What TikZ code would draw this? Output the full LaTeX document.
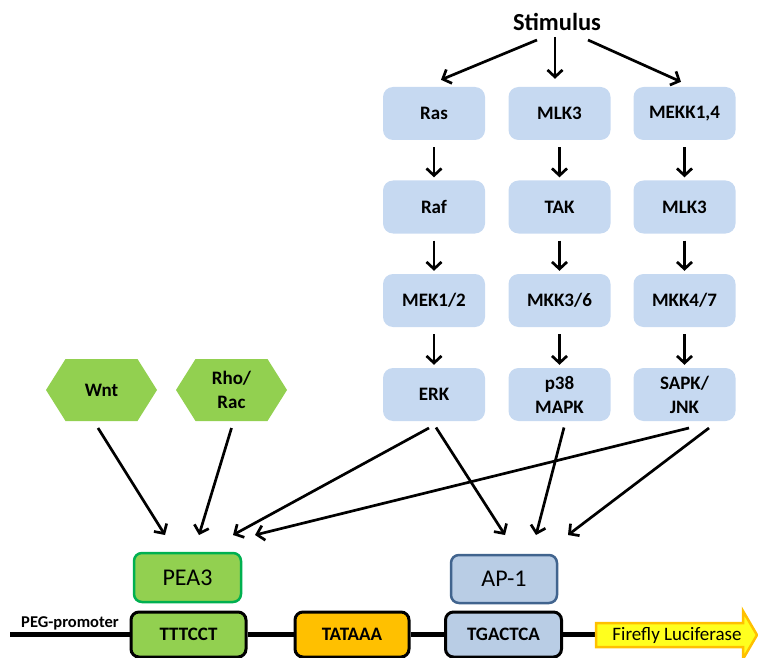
\documentclass[tikz,border=0pt]{standalone}
\usepackage{fontspec}
\setmainfont{Carlito}
\usetikzlibrary{arrows.meta}

\definecolor{kinaseblue}{HTML}{C6D9F1}
\definecolor{leafgreen}{HTML}{92D050}
\definecolor{rimgreen}{HTML}{00B050}
\definecolor{apblue}{HTML}{B9CDE5}
\definecolor{aprim}{HTML}{41648E}
\definecolor{tataorange}{HTML}{FFC000}
\definecolor{lucyellow}{HTML}{FFFF1E}
\definecolor{lucrim}{HTML}{FFC000}

\begin{document}
\begin{tikzpicture}[x=1pt,y=-1pt,
  kinase/.style={fill=kinaseblue, rounded corners=10pt, minimum width=102pt,
    minimum height=53pt, inner sep=0pt, align=center,
    font=\bfseries\fontsize{19}{24}\selectfont},
  hexlabel/.style={inner sep=0pt, align=center,
    font=\bfseries\fontsize{19}{24}\selectfont},
  hexfill/.style={fill=leafgreen},
  factor/.style={rounded corners=8pt, line width=2.5pt, minimum width=106pt,
    minimum height=48pt, inner sep=0pt, font=\fontsize{24}{28}\selectfont},
  site/.style={draw=black, rounded corners=8pt, line width=3pt,
    minimum width=114pt, minimum height=45pt, inner sep=0pt,
    font=\bfseries\fontsize{19}{22}\selectfont},
  arr/.style={line width=2.7pt, -{Straight Barb[length=7pt,width=15pt]}},
  dna/.style={line width=4.5pt}
]
\useasboundingbox (0,0) rectangle (758,658);

% stimulus
\node[font=\bfseries\fontsize{24.5}{28}\selectfont, inner sep=0pt] (stim) at (557,22) {Stimulus};

% MAPK cascades
\node[kinase] (ras)   at (434,113.5)   {Ras};
\node[kinase] (mlka)  at (559.5,113.5) {MLK3};
\node[kinase] (mekk)  at (684.5,113.5) {MEKK1,4};
\node[kinase] (raf)   at (434,207)     {Raf};
\node[kinase] (tak)   at (559.5,207)   {TAK};
\node[kinase] (mlkb)  at (684.5,207)   {MLK3};
\node[kinase] (mek)   at (434,300.5)   {MEK1/2};
\node[kinase] (mkkc)  at (559.5,300.5) {MKK3/6};
\node[kinase] (mkkd)  at (684.5,300.5) {MKK4/7};
\node[kinase] (erk)   at (434,394.5)   {ERK};
\node[kinase] (p38)   at (559.5,394.5) {p38\\MAPK};
\node[kinase] (sapk)  at (684.5,394.5) {SAPK/\\JNK};

\draw[arr] ([shift={(-20,18)}]stim.center) -- ([shift={(7,-7)}]ras.north);
\draw[arr] ([shift={(-2,15)}]stim.center) -- ([shift={(-4.5,-8)}]mlka.north);
\draw[arr] ([shift={(31,18)}]stim.center) -- ([shift={(-3.5,-5)}]mekk.north);

\foreach \a/\b in {ras/raf, raf/mek, mek/erk, mlka/tak, tak/mkkc, mkkc/p38,
                   mekk/mlkb, mlkb/mkkd, mkkd/sapk}
  \draw[arr] ([yshift=-7pt]\a.south) -- ([yshift=3pt]\b.north);

% Wnt and Rho/Rac hexagons
\foreach \c in {(101.5,390),(231.5,390)}
  \fill[hexfill, shift=\c] (-55.5,0) -- (-36,-31) -- (36,-31) -- (55.5,0)
     -- (36,31) -- (-36,31) -- cycle;
\node[hexlabel] (wnt) at (101.5,390) {Wnt};
\node[hexlabel] (rho) at (231.5,390) {Rho/\\Rac};

% transcription factors
\node[factor, draw=rimgreen, fill=leafgreen, minimum width=107pt, minimum height=49pt]
  (pea) at (187.5,577.5) {PEA3};
\node[factor, draw=aprim, fill=apblue] (ap) at (504,579) {AP-1};

\draw[arr] ([shift={(-3.5,38)}]wnt.center)  -- ([shift={(-22.5,-42.5)}]pea.center);
\draw[arr] ([shift={(0,38)}]rho.center)     -- ([shift={(11.5,-42.5)}]pea.center);
\draw[arr] ([shift={(-5,33.5)}]erk.center)  -- ([shift={(45.5,-42.5)}]pea.center);
\draw[arr] ([shift={(4.5,33.5)}]sapk.center) -- ([shift={(67.5,-42.5)}]pea.center);
\draw[arr] ([shift={(2,33)}]erk.center)     -- ([shift={(1,-44)}]ap.center);
\draw[arr] ([shift={(4.5,33)}]p38.center)   -- ([shift={(32,-44)}]ap.center);
\draw[arr] ([shift={(24.5,33.5)}]sapk.center) -- ([shift={(64,-44)}]ap.center);

% promoter construct
\node[site, fill=leafgreen, minimum width=115pt] (ttt) at (188.5,634.5) {TTTCCT};
\node[site, fill=tataorange] (tata) at (352,634.5) {TATAAA};
\node[site, fill=apblue, minimum width=116pt] (tga) at (503.5,634.5) {TGACTCA};

\coordinate (promstart) at (10,634.5);
\coordinate (luctail) at (596,634.5);
\node[font=\bfseries\fontsize{16.5}{20}\selectfont, inner sep=0pt] (peg) at (70,623) {PEG-promoter};

\draw[dna] (promstart) -- (ttt.west);
\draw[dna] (ttt.east) -- (tata.west);
\draw[dna] (tata.east) -- (tga.west);
\draw[dna] (tga.east) -- (luctail);

% reporter gene arrow
\filldraw[fill=lucyellow, draw=lucrim, line width=2.5pt, line join=miter]
  (luctail) -- (596,623) -- (743,623) -- (743,611) -- (757,635) -- (743,659)
  -- (743,647) -- (596,647) -- cycle;
\node[font=\fontsize{19}{22}\selectfont, inner sep=0pt] (luc) at (677,635) {Firefly Luciferase};

\end{tikzpicture}
\end{document}
